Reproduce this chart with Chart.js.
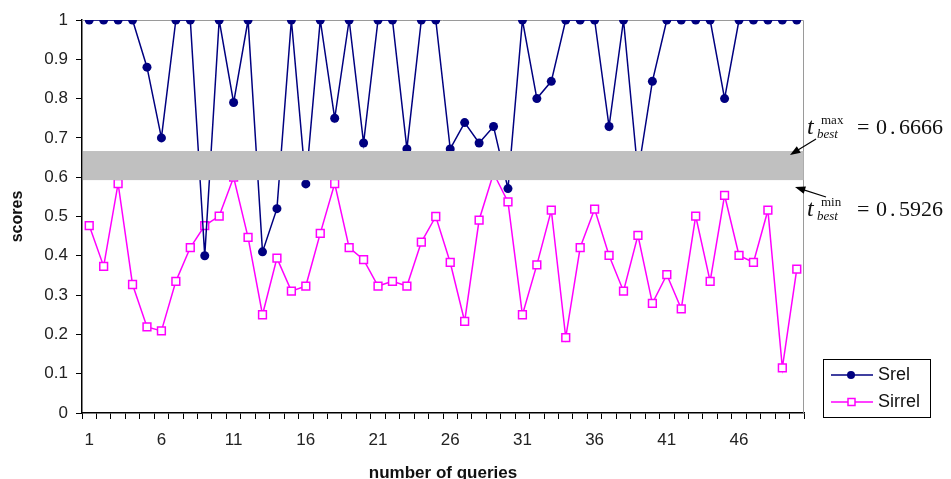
<!DOCTYPE html>
<html>
<head>
<meta charset="utf-8">
<script src="https://cdn.jsdelivr.net/npm/chart.js@4.4.1/dist/chart.umd.min.js"></script>
<style>
  html, body { margin: 0; padding: 0; background: #fff; overflow: hidden; }
  #wrap { width: 951px; height: 479px; position: relative; }
</style>
</head>
<body>
<div id="wrap"><canvas id="scoresChart"></canvas></div>
<script>
// Queries 1..50
const queries = Array.from({ length: 50 }, (_, i) => String(i + 1));

// Scores per query
const srel = [
  1, 1, 1, 1, 0.88, 0.70, 1, 1, 0.40, 1,
  0.79, 1, 0.41, 0.52, 1, 0.583, 1, 0.75, 1, 0.687,
  1, 1, 0.672, 1, 1, 0.672, 0.739, 0.687, 0.729, 0.571,
  1, 0.80, 0.844, 1, 1, 1, 0.729, 1, 0.61, 0.844,
  1, 1, 1, 1, 0.80, 1, 1, 1, 1, 1
];
const sirrel = [
  0.477, 0.373, 0.584, 0.327, 0.219, 0.209, 0.335, 0.421, 0.477, 0.501,
  0.60, 0.447, 0.250, 0.394, 0.310, 0.323, 0.457, 0.584, 0.421, 0.390,
  0.323, 0.335, 0.323, 0.435, 0.50, 0.383, 0.233, 0.491, 0.61, 0.537,
  0.250, 0.377, 0.516, 0.192, 0.421, 0.519, 0.401, 0.310, 0.452, 0.279,
  0.352, 0.265, 0.501, 0.335, 0.554, 0.401, 0.383, 0.516, 0.115, 0.366
];

// Best threshold range
const T_BEST_MIN = 0.5926;
const T_BEST_MAX = 0.6666;

const SREL_COLOR = "#000080";
const SIRREL_COLOR = "#FF00FF";

// Grey band for the threshold range, drawn over the lines
const bandPlugin = {
  id: "band",
  beforeDatasetsDraw(chart) {
    const { ctx, chartArea: a } = chart;
    ctx.save();
    ctx.strokeStyle = "#9a9a9a";
    ctx.lineWidth = 1;
    ctx.beginPath();
    ctx.moveTo(a.left, a.top + 0.5);
    ctx.lineTo(a.right - 0.5, a.top + 0.5);
    ctx.lineTo(a.right - 0.5, a.bottom);
    ctx.stroke();
    ctx.restore();
  },
  afterDatasetsDraw(chart) {
    const { ctx, chartArea: a, scales } = chart;
    const yTop = scales.y.getPixelForValue(T_BEST_MAX);
    const yBot = scales.y.getPixelForValue(T_BEST_MIN);
    ctx.save();
    ctx.fillStyle = "#c0c0c0";
    ctx.fillRect(a.left + 1, yTop, a.right - a.left - 1.5, yBot - yTop);
    ctx.restore();
  },
};

function drawArrow(ctx, x1, y1, x2, y2) {
  const ang = Math.atan2(y2 - y1, x2 - x1);
  const len = 11;
  ctx.beginPath();
  ctx.moveTo(x1, y1);
  ctx.lineTo(x2 - Math.cos(ang) * 6, y2 - Math.sin(ang) * 6);
  ctx.stroke();
  ctx.beginPath();
  ctx.moveTo(x2, y2);
  ctx.lineTo(x2 - len * Math.cos(ang - 0.35), y2 - len * Math.sin(ang - 0.35));
  ctx.lineTo(x2 - len * Math.cos(ang + 0.35), y2 - len * Math.sin(ang + 0.35));
  ctx.closePath();
  ctx.fill();
}

function drawThresholdLabel(ctx, x, y, sup, value) {
  ctx.fillStyle = "#111";
  ctx.textBaseline = "alphabetic";
  ctx.textAlign = "left";
  ctx.font = "italic 24px 'Liberation Serif', 'DejaVu Serif', serif";
  ctx.fillText("t", x, y);
  ctx.font = "13px 'Liberation Serif', serif";
  ctx.fillText(sup, x + 14, y - 10);
  ctx.font = "italic 13px 'Liberation Serif', serif";
  ctx.fillText("best", x + 10, y + 4);
  ctx.font = "22px 'Liberation Serif', 'DejaVu Serif', serif";
  ctx.fillText("=", x + 50, y);
  ctx.fillText("0", x + 69, y);
  ctx.fillText(".", x + 83, y);
  ctx.fillText(value, x + 92, y);
}

// Threshold labels, arrows and legend box
const notesPlugin = {
  id: "notes",
  afterDraw(chart) {
    const { ctx } = chart;
    ctx.save();
    ctx.strokeStyle = "#000";
    ctx.fillStyle = "#000";
    ctx.lineWidth = 1.2;
    drawArrow(ctx, 816, 139, 790, 155);
    drawArrow(ctx, 826, 197, 795, 187);
    drawThresholdLabel(ctx, 807, 134, "max", "6666");
    drawThresholdLabel(ctx, 807, 216, "min", "5926");

    // legend
    const lx = 823, ly = 359, lw = 107, lh = 58;
    ctx.fillStyle = "#fff";
    ctx.fillRect(lx, ly, lw, lh);
    ctx.strokeStyle = "#000";
    ctx.lineWidth = 1;
    ctx.strokeRect(lx + 0.5, ly + 0.5, lw, lh);

    const items = [
      { label: "Srel", color: SREL_COLOR, y: 375, square: false },
      { label: "Sirrel", color: SIRREL_COLOR, y: 402, square: true },
    ];
    items.forEach((it) => {
      ctx.strokeStyle = it.color;
      ctx.lineWidth = 1.5;
      ctx.beginPath();
      ctx.moveTo(831, it.y);
      ctx.lineTo(873, it.y);
      ctx.stroke();
      if (it.square) {
        ctx.fillStyle = "#fff";
        ctx.fillRect(848, it.y - 3.5, 7, 7);
        ctx.strokeRect(848, it.y - 3.5, 7, 7);
      } else {
        ctx.fillStyle = it.color;
        ctx.beginPath();
        ctx.arc(851, it.y, 4, 0, Math.PI * 2);
        ctx.fill();
      }
      ctx.fillStyle = "#111";
      ctx.font = "18px 'Liberation Sans', Arial, sans-serif";
      ctx.textBaseline = "middle";
      ctx.textAlign = "left";
      ctx.fillText(it.label, 878, it.y);
    });
    ctx.restore();
  },
};

const tickFont = { family: "'Liberation Sans', Arial, sans-serif", size: 17 };

new Chart(document.getElementById("scoresChart"), {
  type: "line",
  data: {
    labels: queries,
    datasets: [
      {
        label: "Srel",
        data: srel,
        borderColor: SREL_COLOR,
        backgroundColor: SREL_COLOR,
        borderWidth: 1.5,
        pointRadius: 4.5,
        pointStyle: "circle",
        pointBackgroundColor: SREL_COLOR,
        pointBorderWidth: 0,
        tension: 0,
      },
      {
        label: "Sirrel",
        data: sirrel,
        borderColor: SIRREL_COLOR,
        backgroundColor: "#fff",
        borderWidth: 1.5,
        pointRadius: 5.5,
        pointStyle: "rect",
        pointBackgroundColor: "#fff",
        pointBorderColor: SIRREL_COLOR,
        pointBorderWidth: 1.5,
        tension: 0,
      },
    ],
  },
  options: {
    responsive: true,
    maintainAspectRatio: false,
    animation: false,
    layout: { padding: { top: 20, right: 147, left: 0, bottom: 0 } },
    plugins: {
      legend: { display: false },
      tooltip: { enabled: false },
    },
    scales: {
      x: {
        type: "category",
        offset: true,
        afterFit(scale) { scale.height = 66; },
        grid: {
          offset: true,
          drawOnChartArea: false,
          drawTicks: true,
          tickLength: 6,
          color: "#000",
        },
        border: { color: "#000", width: 1.5 },
        ticks: {
          autoSkip: false,
          maxRotation: 0,
          padding: 11,
          color: "#222",
          font: tickFont,
          callback(value, index) {
            return index % 5 === 0 ? this.getLabelForValue(value) : "";
          },
        },
        title: {
          display: true,
          text: "number of queries",
          color: "#111",
          font: { family: "'Liberation Sans', Arial, sans-serif", size: 17, weight: "bold" },
          padding: { top: 0, bottom: -5 },
        },
      },
      y: {
        min: 0,
        max: 1,
        afterFit(scale) { scale.width = 82; },
        grid: {
          drawOnChartArea: false,
          drawTicks: true,
          tickLength: 6,
          color: "#000",
        },
        border: { color: "#000", width: 1.5 },
        ticks: {
          stepSize: 0.1,
          padding: 8,
          color: "#222",
          font: tickFont,
          callback(value) {
            return String(parseFloat(value.toFixed(1)));
          },
        },
        title: {
          display: true,
          text: "scores",
          color: "#111",
          font: { family: "'Liberation Sans', Arial, sans-serif", size: 16, weight: "bold" },
          padding: { top: 8, bottom: 0 },
        },
      },
    },
  },
  plugins: [bandPlugin, notesPlugin],
});
</script>
</body>
</html>
